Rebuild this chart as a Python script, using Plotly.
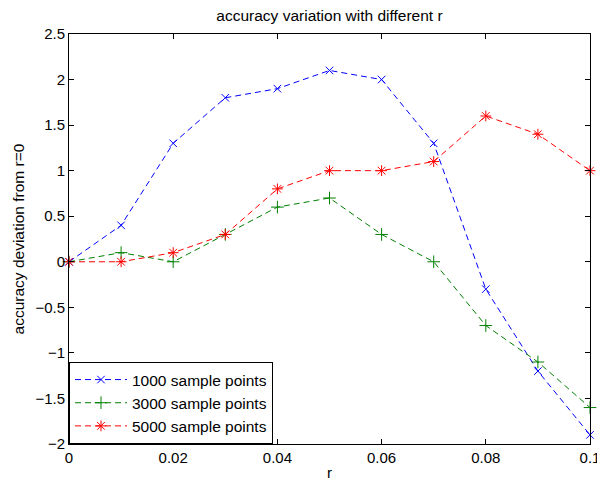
import plotly.graph_objects as go

r_vals = [0, 0.01, 0.02, 0.03, 0.04, 0.05, 0.06, 0.07, 0.08, 0.09, 0.1]
s1000 = [0, 0.4, 1.3, 1.8, 1.9, 2.1, 2.0, 1.3, -0.3, -1.2, -1.9]
s3000 = [0, 0.1, 0, 0.3, 0.6, 0.7, 0.3, 0, -0.7, -1.1, -1.6]
s5000 = [0, 0, 0.1, 0.3, 0.8, 1.0, 1.0, 1.1, 1.6, 1.4, 1.0]
names = ["1000 sample points", "3000 sample points", "5000 sample points"]
colors = ["#0000ff", "#008000", "#ff0000"]
symbols = ["x-thin", "cross-thin", "asterisk"]
msizes = [7.5, 9, 9]
x_ticks = [0, 0.02, 0.04, 0.06, 0.08, 0.1]
x_labels = ["0", "0.02", "0.04", "0.06", "0.08", "0.1"]
y_ticks = [-2, -1.5, -1, -0.5, 0, 0.5, 1, 1.5, 2, 2.5]

fig = go.Figure()
for ys, nm, c, sym, ms in zip([s1000, s3000, s5000], names, colors, symbols, msizes):
    fig.add_trace(go.Scatter(
        x=r_vals, y=ys, name=nm, mode="lines+markers",
        line=dict(color=c, width=1, dash="6px,4px"),
        marker=dict(symbol=sym, size=ms, color=c, line=dict(color=c, width=1)),
        cliponaxis=False,
    ))

font = "Liberation Sans, Arial, sans-serif"
fig.update_layout(
    width=597, height=481,
    margin=dict(l=69, r=7, t=34, b=37, autoexpand=False),
    paper_bgcolor="white", plot_bgcolor="white",
    font=dict(family=font, size=15, color="black"),
    title=dict(text="accuracy variation with different r", x=0.5, xref="paper",
               y=1 - 16 / 481, yref="container", yanchor="middle", xanchor="center",
               font=dict(size=15.5, family=font)),
    showlegend=True,
    legend=dict(x=0, y=0, xanchor="left", yanchor="bottom",
                bgcolor="white", bordercolor="black", borderwidth=1,
                font=dict(size=15.5, family=font), tracegroupgap=0,
                itemwidth=52),
)
fig.update_xaxes(
    range=[0, 0.1], tickvals=x_ticks, ticktext=x_labels, automargin=False,
    ticks="inside", ticklen=5, tickcolor="black", mirror="ticks",
    ticklabeloverflow="allow",
    showline=True, linecolor="black", linewidth=1, showgrid=False, zeroline=False,
    title=dict(text="r", font=dict(size=15), standoff=6),
    tickfont=dict(size=15),
)
fig.update_yaxes(
    range=[-2, 2.5], tickvals=y_ticks, automargin=False,
    ticks="inside", ticklen=5, tickcolor="black", mirror="ticks",
    ticklabeloverflow="allow",
    showline=True, linecolor="black", linewidth=1, showgrid=False, zeroline=False,
    title=dict(text="accuracy deviation from r=0", font=dict(size=15.5), standoff=6),
    tickfont=dict(size=15),
)
fig.write_html("out.html", config={"displayModeBar": False},
               post_script="document.body.style.margin='0';document.body.style.overflow='hidden';")
